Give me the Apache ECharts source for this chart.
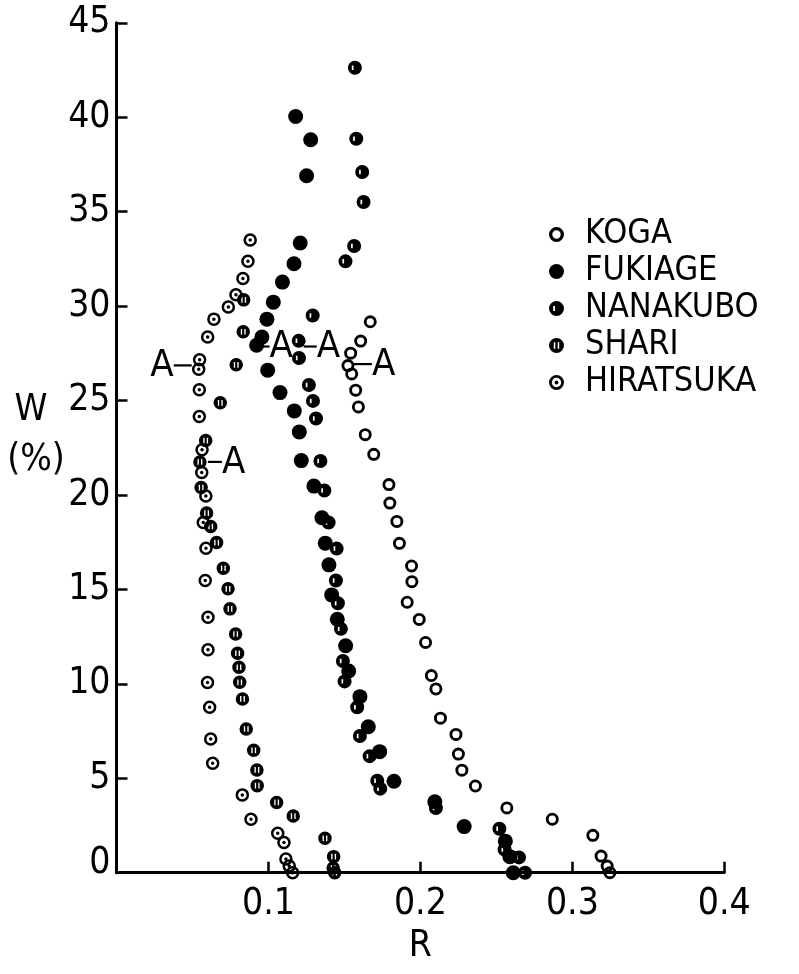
<!DOCTYPE html>
<html>
<head>
<meta charset="utf-8">
<script src="https://cdn.jsdelivr.net/npm/echarts@6/dist/echarts.min.js"></script>
<style>
html,body{margin:0;padding:0;background:#fff;}
#c{width:799px;height:974px;}
</style>
</head>
<body>
<div id="c"></div>
<script>
// ---- data (R, W%) ----
const seriesNames = ['KOGA', 'FUKIAGE', 'NANAKUBO', 'SHARI', 'HIRATSUKA'];
const xTicks = [0, 0.1, 0.2, 0.3, 0.4];
const yTicks = [0, 5, 10, 15, 20, 25, 30, 35, 40, 45];

const kogaData = [
  [0.1670,29.17],[0.1607,28.15],[0.1541,27.51],[0.1523,26.85],[0.1548,26.41],
  [0.1574,25.55],[0.1592,24.66],[0.1637,23.19],[0.1693,22.15],[0.1793,20.55],
  [0.1799,19.57],[0.1845,18.60],[0.1862,17.44],[0.1942,16.24],[0.1944,15.41],
  [0.1913,14.32],[0.1992,13.41],[0.2034,12.19],[0.2072,10.44],[0.2102,9.73],
  [0.2132,8.18],[0.2234,7.32],[0.2250,6.28],[0.2273,5.43],[0.2362,4.59],
  [0.2569,3.43],[0.2868,2.83],[0.3135,1.98],[0.3189,0.88],[0.3229,0.35],[0.3247,0.0]
];
const fukiageData = [
  [0.1179,40.04],[0.1278,38.81],[0.1251,36.90],[0.1209,33.34],[0.1168,32.24],
  [0.1092,31.27],[0.1032,30.21],[0.0990,29.31],[0.0957,28.36],[0.0922,27.93],
  [0.0995,26.61],[0.1076,25.42],[0.1170,24.45],[0.1203,23.34],[0.1216,21.82],
  [0.1299,20.47],[0.1352,18.79],[0.1374,17.45],[0.1398,16.30],[0.1416,14.71],
  [0.1453,13.42],[0.1508,12.02],[0.1528,10.68],[0.1602,9.32],[0.1657,7.73],
  [0.1732,6.41],[0.1826,4.84],[0.2095,3.76],[0.2288,2.44],[0.2559,1.67],
  [0.2589,0.85],[0.2611,0.0]
];
const nanakuboData = [
  [0.1569,42.62],[0.1578,38.86],[0.1617,37.10],[0.1626,35.51],[0.1564,33.18],
  [0.1507,32.37],[0.1291,29.50],[0.1199,28.16],[0.1201,27.25],[0.1266,25.82],
  [0.1293,24.98],[0.1313,24.05],[0.1342,21.80],[0.1368,20.24],[0.1396,18.54],
  [0.1449,17.16],[0.1444,15.47],[0.1457,14.27],[0.1477,12.91],[0.1490,11.21],
  [0.1501,10.13],[0.1584,8.76],[0.1602,7.24],[0.1666,6.17],[0.1716,4.87],
  [0.1736,4.45],[0.2102,3.42],[0.2520,2.33],[0.2554,1.23],[0.2649,0.81],[0.2689,0.0]
];
const shariData = [
  [0.0837,30.33],[0.0834,28.64],[0.0788,26.89],[0.0683,24.88],[0.0587,22.88],
  [0.0549,21.75],[0.0557,20.39],[0.0593,19.04],[0.0620,18.33],[0.0659,17.48],
  [0.0703,16.12],[0.0734,15.03],[0.0747,13.97],[0.0784,12.64],[0.0797,11.62],
  [0.0806,10.88],[0.0811,10.08],[0.0829,9.20],[0.0854,7.61],[0.0903,6.48],
  [0.0924,5.44],[0.0926,4.61],[0.1054,3.72],[0.1163,3.00],[0.1372,1.82],
  [0.1429,0.85],[0.1426,0.25],[0.1436,0.0]
];
const hiratsukaData = [
  [0.0880,33.50],[0.0865,32.38],[0.0832,31.46],[0.0786,30.60],[0.0736,29.95],
  [0.0641,29.31],[0.0600,28.36],[0.0547,27.16],[0.0541,26.66],[0.0545,25.57],
  [0.0545,24.15],[0.0563,22.39],[0.0561,21.19],[0.0588,19.94],[0.0571,18.54],
  [0.0589,17.18],[0.0584,15.47],[0.0602,13.53],[0.0602,11.80],[0.0599,10.07],
  [0.0613,8.76],[0.0620,7.08],[0.0633,5.79],[0.0828,4.12],[0.0885,2.83],
  [0.1061,2.09],[0.1102,1.60],[0.1115,0.73],[0.1137,0.35],[0.1159,0.0]
];

// "A" annotations anchored in data coordinates
const annotR = [0.0541, 0.0549, 0.0922, 0.1199, 0.1523];
const annotW = [26.86, 21.75, 27.86, 27.86, 26.93];
const annotSide = ['left', 'right', 'right', 'right', 'right'];
// leader style (px): [gap from point, dash length]
const annotDash = [[7, 18], [8, 14], [6, 7], [5, 13], [6, 18]];

// ---- symbols ----
function circ(cx, cy, r, cw) {
  const s = cw ? 1 : 0;
  return 'M' + (cx - r) + ' ' + cy + 'A' + r + ' ' + r + ' 0 1 ' + s + ' ' + (cx + r) + ' ' + cy +
         'A' + r + ' ' + r + ' 0 1 ' + s + ' ' + (cx - r) + ' ' + cy + 'Z';
}
function holeRect(x1, y1, x2, y2) {
  return 'M' + x1 + ' ' + y1 + 'L' + x1 + ' ' + y2 + 'L' + x2 + ' ' + y2 + 'L' + x2 + ' ' + y1 + 'Z';
}
const symKoga = 'path://' + circ(10, 10, 10, true) + circ(10, 10, 5.6, false);
const symFuki = 'circle';
const symNana = 'path://' + circ(10, 10, 10, true) + holeRect(5.6, 6.8, 8.0, 13.2);
const symShari = 'path://' + circ(10, 10, 10, true) + holeRect(6.4, 5.8, 8.4, 14.2) + holeRect(11.6, 5.8, 13.6, 14.2);
const symHira = 'path://' + circ(10, 10, 10, true) + circ(10, 10, 6.3, false) + circ(10, 10, 2.6, true);

const FONT = '"DejaVu Sans Condensed", "DejaVu Sans", sans-serif';

const chart = echarts.init(document.getElementById('c'), null, { renderer: 'canvas' });

function mk(name, data, symbol, size) {
  return {
    type: 'scatter', name: name, data: data, symbol: symbol, symbolSize: size,
    itemStyle: { color: '#000', opacity: 1 }, emphasis: { disabled: true }, z: 3
  };
}

chart.setOption({
  animation: false,
  backgroundColor: '#fff',
  grid: { left: 116.5, right: 74.7, top: 22.8, bottom: 101.3, containLabel: false },
  xAxis: {
    type: 'value', min: xTicks[0], max: xTicks[xTicks.length - 1], interval: 0.1,
    name: 'R', nameLocation: 'middle', nameGap: 46,
    nameTextStyle: { fontSize: 37, fontFamily: FONT, color: '#000' },
    axisLine: { show: true, lineStyle: { color: '#000', width: 3 } },
    axisTick: { show: true, inside: true, length: 11, lineStyle: { color: '#000', width: 2.5 } },
    axisLabel: {
      fontSize: 37, fontFamily: FONT, color: '#000', margin: 13,
      formatter: function (v) { return v === 0 ? '' : v.toFixed(1); }
    },
    splitLine: { show: false }
  },
  yAxis: {
    type: 'value', min: yTicks[0], max: yTicks[yTicks.length - 1], interval: 5,
    axisLine: { show: true, lineStyle: { color: '#000', width: 3 } },
    axisTick: { show: true, inside: true, length: 11, lineStyle: { color: '#000', width: 2.5 } },
    axisLabel: {
      fontSize: 37, fontFamily: FONT, color: '#000', margin: 6,
      formatter: function (v) { return v === 0 ? '{z|0}' : String(v); },
      rich: { z: { fontSize: 37, fontFamily: FONT, color: '#000', padding: [0, 0, 18, 0] } }
    },
    splitLine: { show: false }
  },
  legend: {
    data: seriesNames, orient: 'vertical', left: 544, top: 212,
    itemWidth: 15, itemHeight: 15, itemGap: 2,
    textStyle: { fontSize: 34, fontFamily: FONT, color: '#000', padding: [0, 0, 0, 16], lineHeight: 35 },
    selectedMode: false
  },
  series: [
    mk('KOGA', kogaData, symKoga, 13),
    mk('FUKIAGE', fukiageData, symFuki, 15),
    mk('NANAKUBO', nanakuboData, symNana, 14),
    mk('SHARI', shariData, symShari, 13.5),
    mk('HIRATSUKA', hiratsukaData, symHira, 13.5)
  ]
});

// annotations + y-axis name
const g = [];
for (let i = 0; i < annotR.length; i++) {
  const p = chart.convertToPixel({ gridIndex: 0 }, [annotR[i], annotW[i]]);
  const gap = annotDash[i][0], len = annotDash[i][1];
  const dir = annotSide[i] === 'left' ? -1 : 1;
  const x1 = p[0] + dir * gap, x2 = p[0] + dir * (gap + len);
  g.push({ type: 'line', shape: { x1: x1, y1: p[1], x2: x2, y2: p[1] }, style: { stroke: '#000', lineWidth: 2.2 }, z: 10 });
  g.push({
    type: 'text', x: x2, y: p[1] + 1, z: 10,
    style: { text: 'A', fontSize: 38, fontFamily: FONT, fill: '#000',
             align: dir < 0 ? 'right' : 'left', verticalAlign: 'middle' }
  });
}
g.push({ type: 'text', x: 31, y: 410, style: { text: 'W', fontSize: 37, fontFamily: FONT, fill: '#000', align: 'center', verticalAlign: 'middle' } });
g.push({ type: 'text', x: 36, y: 460, style: { text: '(%)', fontSize: 37, fontFamily: FONT, fill: '#000', align: 'center', verticalAlign: 'middle' } });
chart.setOption({ graphic: g });
</script>
</body>
</html>
